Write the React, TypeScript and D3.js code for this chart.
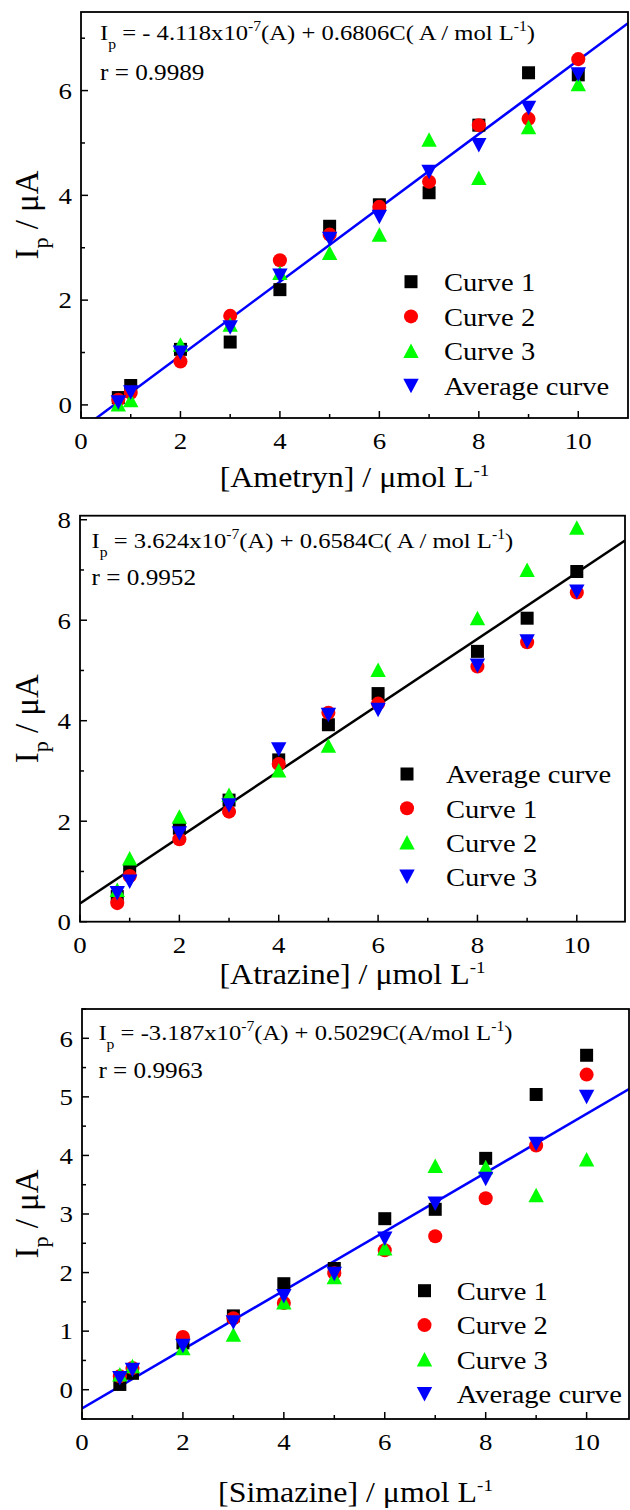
import React, { useEffect, useRef } from 'react';
import * as d3 from 'd3';

// concentrations (umol/L)
const ametrynX = [0.75, 1, 2, 3, 4, 5, 6, 7, 8, 9, 10];
const ametrynCurve1 = [0.14, 0.37, 1.06, 1.2, 2.2, 3.41, 3.82, 4.05, 5.34, 6.34, 6.3];
const ametrynCurve2 = [0.1, 0.23, 0.83, 1.7, 2.76, 3.25, 3.78, 4.26, 5.34, 5.46, 6.6];
const ametrynCurve3 = [0.01, 0.09, 1.15, 1.53, 2.52, 2.9, 3.25, 5.06, 4.33, 5.3, 6.12];
const ametrynAverage = [0.05, 0.24, 1.0, 1.48, 2.47, 3.17, 3.59, 4.45, 4.96, 5.67, 6.31];
const ametrynFit = { intercept: -0.47, slope: 0.705 };

const atrazineX = [0.75, 1, 2, 3, 4, 5, 6, 8, 9, 10];
const atrazineAverage = [0.5, 1.0, 1.86, 2.42, 3.22, 3.92, 4.54, 5.38, 6.04, 6.97];
const atrazineCurve1 = [0.37, 0.91, 1.64, 2.19, 3.14, 4.16, 4.34, 5.08, 5.56, 6.55];
const atrazineCurve2 = [0.63, 1.26, 2.09, 2.52, 3.01, 3.5, 5.01, 6.04, 7.0, 7.84];
const atrazineCurve3 = [0.57, 0.8, 1.76, 2.32, 3.43, 4.12, 4.22, 5.1, 5.58, 6.57];
const atrazineFit = { intercept: 0.3624, slope: 0.6584 };

const simazineX = [0.75, 1, 2, 3, 4, 5, 6, 7, 8, 9, 10];
const simazineCurve1 = [0.09, 0.28, 0.8, 1.26, 1.81, 2.07, 2.92, 3.08, 3.95, 5.04, 5.71];
const simazineCurve2 = [0.23, 0.37, 0.9, 1.22, 1.48, 1.99, 2.38, 2.62, 3.27, 4.17, 5.38];
const simazineCurve3 = [0.26, 0.4, 0.71, 0.94, 1.49, 1.92, 2.41, 3.82, 3.8, 3.32, 3.93];
const simazineAverage = [0.2, 0.34, 0.75, 1.15, 1.6, 1.98, 2.58, 3.18, 3.6, 4.2, 5.0];
const simazineFit = { intercept: -0.3187, slope: 0.5029 };

const xMajorTicks = [0, 2, 4, 6, 8, 10];
const xMinorTicks = [1, 3, 5, 7, 9];

const FONT = 'Liberation Serif';
const SX = 1.12; // the original figure is slightly stretched horizontally

type Shape = 'square' | 'circle' | 'up' | 'down';
const COLORS: Record<Shape, string> = { square: '#000000', circle: '#ff0000', up: '#00ff00', down: '#0000ff' };

function markerPath(shape: Shape) {
  if (shape === 'square') return 'M-6.5,-6.5H6.5V6.5H-6.5Z';
  if (shape === 'circle') return d3.symbol(d3.symbolCircle, 155)() as string;
  if (shape === 'up') return 'M0,-7.5L7.7,7H-7.7Z';
  return 'M0,7.5L7.7,-7H-7.7Z';
}

const panels = [
  {
    x: ametrynX,
    series: [
      { name: 'Curve 1', shape: 'square' as Shape, values: ametrynCurve1 },
      { name: 'Curve 2', shape: 'circle' as Shape, values: ametrynCurve2 },
      { name: 'Curve 3', shape: 'up' as Shape, values: ametrynCurve3 },
      { name: 'Average curve', shape: 'down' as Shape, values: ametrynAverage },
    ],
    fit: ametrynFit, fitColor: '#0000ff',
    box: { left: 81, right: 628, top: 12, bottom: 418 },
    xDomain: [0, 11], yDomain: [-0.25, 7.5],
    yMajor: [0, 2, 4, 6], yMinor: [1, 3, 5, 7],
    eq: ['- 4.118x10', '(A) + 0.6806C( A / mol L'], r: 'r = 0.9989',
    eqPos: { x: 100, y1: 40, y2: 80 },
    legend: { symX: 411, textX: 444, y0: 281.7, dy: 34.7 },
    compound: 'Ametryn', titleY: 487,
  },
  {
    x: atrazineX,
    series: [
      { name: 'Average curve', shape: 'square' as Shape, values: atrazineAverage },
      { name: 'Curve 1', shape: 'circle' as Shape, values: atrazineCurve1 },
      { name: 'Curve 2', shape: 'up' as Shape, values: atrazineCurve2 },
      { name: 'Curve 3', shape: 'down' as Shape, values: atrazineCurve3 },
    ],
    fit: atrazineFit, fitColor: '#000000',
    box: { left: 80, right: 625, top: 515.7, bottom: 921.7 },
    xDomain: [0, 10.97], yDomain: [0, 8.08],
    yMajor: [0, 2, 4, 6, 8], yMinor: [1, 3, 5, 7],
    eq: ['3.624x10', '(A) + 0.6584C( A / mol L'], r: 'r = 0.9952',
    eqPos: { x: 91.6, y1: 548, y2: 585 },
    legend: { symX: 407, textX: 446, y0: 774, dy: 34.2 },
    compound: 'Atrazine', titleY: 984,
  },
  {
    x: simazineX,
    series: [
      { name: 'Curve 1', shape: 'square' as Shape, values: simazineCurve1 },
      { name: 'Curve 2', shape: 'circle' as Shape, values: simazineCurve2 },
      { name: 'Curve 3', shape: 'up' as Shape, values: simazineCurve3 },
      { name: 'Average curve', shape: 'down' as Shape, values: simazineAverage },
    ],
    fit: simazineFit, fitColor: '#0000ff',
    box: { left: 82, right: 629, top: 1009, bottom: 1419 },
    xDomain: [0, 10.84], yDomain: [-0.5, 6.5],
    yMajor: [0, 1, 2, 3, 4, 5, 6], yMinor: [-0.5, 0.5, 1.5, 2.5, 3.5, 4.5, 5.5, 6.5],
    eq: ['-3.187x10', '(A) + 0.5029C(A/mol L'], r: 'r = 0.9963',
    eqPos: { x: 98.4, y1: 1040, y2: 1078 },
    legend: { symX: 424.5, textX: 456.7, y0: 1290.7, dy: 34.4 },
    compound: 'Simazine', titleY: 1502,
  },
];

function drawPanel(svg: any, p: any, idx: number) {
  const { left, right, top, bottom } = p.box;
  const xScale = d3.scaleLinear().domain(p.xDomain).range([left, right]);
  const yScale = d3.scaleLinear().domain(p.yDomain).range([bottom, top]);
  const g = svg.append('g').style('font-family', FONT);

  const clipId = 'clip' + idx;
  g.append('clipPath').attr('id', clipId)
    .append('rect').attr('x', left).attr('y', top).attr('width', right - left).attr('height', bottom - top);

  // fit line
  const fitLine = d3.line<number>()
    .x(d => xScale(d))
    .y(d => yScale(p.fit.intercept + p.fit.slope * d));
  g.append('path')
    .attr('clip-path', `url(#${clipId})`)
    .attr('d', fitLine(p.xDomain))
    .attr('fill', 'none')
    .attr('stroke', p.fitColor)
    .attr('stroke-width', 2.5);

  // points
  p.series.forEach((s: any) => {
    g.append('g').selectAll('path')
      .data(s.values)
      .join('path')
      .attr('d', markerPath(s.shape))
      .attr('fill', COLORS[s.shape as Shape])
      .attr('transform', (d: number, i: number) => `translate(${xScale(p.x[i])},${yScale(d)})`);
  });

  // frame
  g.append('rect')
    .attr('x', left).attr('y', top).attr('width', right - left).attr('height', bottom - top)
    .attr('fill', 'none').attr('stroke', '#000').attr('stroke-width', 1.8);

  // ticks (inward)
  xMajorTicks.forEach(t => {
    g.append('line').attr('x1', xScale(t)).attr('x2', xScale(t)).attr('y1', bottom).attr('y2', bottom - 7)
      .attr('stroke', '#000').attr('stroke-width', 1.5);
    g.append('text')
      .attr('transform', `translate(${xScale(t)},${bottom + 31}) scale(${SX},1)`)
      .attr('text-anchor', 'middle').attr('font-size', 24)
      .text(t);
  });
  xMinorTicks.forEach(t => {
    g.append('line').attr('x1', xScale(t)).attr('x2', xScale(t)).attr('y1', bottom).attr('y2', bottom - 4)
      .attr('stroke', '#000').attr('stroke-width', 1.5);
  });
  p.yMajor.forEach((t: number) => {
    g.append('line').attr('x1', left).attr('x2', left + 7).attr('y1', yScale(t)).attr('y2', yScale(t))
      .attr('stroke', '#000').attr('stroke-width', 1.5);
    g.append('text')
      .attr('transform', `translate(${left - 9},${yScale(t) + 8.3}) scale(${SX},1)`)
      .attr('text-anchor', 'end').attr('font-size', 24)
      .text(t);
  });
  p.yMinor.forEach((t: number) => {
    g.append('line').attr('x1', left).attr('x2', left + 4).attr('y1', yScale(t)).attr('y2', yScale(t))
      .attr('stroke', '#000').attr('stroke-width', 1.5);
  });

  // equation
  const eq = g.append('text')
    .attr('transform', `translate(${p.eqPos.x},${p.eqPos.y1}) scale(${SX},1)`)
    .attr('font-size', 22);
  eq.append('tspan').text('I');
  eq.append('tspan').attr('font-size', 14).attr('dy', 9).text('p');
  eq.append('tspan').attr('dy', -9).text(' = ' + p.eq[0]);
  eq.append('tspan').attr('font-size', 14).attr('dy', -9).text('-7');
  eq.append('tspan').attr('dy', 9).text(p.eq[1]);
  eq.append('tspan').attr('font-size', 14).attr('dy', -9).text('-1');
  eq.append('tspan').attr('dy', 9).text(')');
  g.append('text')
    .attr('transform', `translate(${p.eqPos.x},${p.eqPos.y2}) scale(${SX},1)`)
    .attr('font-size', 22.5)
    .text(p.r);

  // legend
  p.series.forEach((s: any, i: number) => {
    const y = p.legend.y0 + i * p.legend.dy;
    g.append('path').attr('d', markerPath(s.shape)).attr('fill', COLORS[s.shape as Shape])
      .attr('transform', `translate(${p.legend.symX},${y})`);
    g.append('text')
      .attr('transform', `translate(${p.legend.textX},${y + 9.3}) scale(${SX},1)`)
      .attr('font-size', 25.5)
      .text(s.name);
  });

  // axis titles
  const xt = g.append('text')
    .attr('transform', `translate(${(left + right) / 2},${p.titleY}) scale(${SX},1)`)
    .attr('text-anchor', 'middle').attr('font-size', 28.5);
  xt.append('tspan').text(`[${p.compound}] / \u03bcmol L`);
  xt.append('tspan').attr('font-size', 17).attr('dy', -11).text('-1');

  const yt = g.append('text')
    .attr('transform', `translate(38,${(top + bottom) / 2}) rotate(-90)`)
    .attr('text-anchor', 'middle').attr('font-size', 33);
  yt.append('tspan').text('I');
  yt.append('tspan').attr('font-size', 22).attr('dy', 10).text('p');
  yt.append('tspan').attr('dy', -10).text(' / \u03bcA');
}

export default function App() {
  const ref = useRef<SVGSVGElement>(null);

  useEffect(() => {
    const svg = d3.select(ref.current);
    svg.selectAll('*').remove();
    panels.forEach((p, i) => drawPanel(svg, p, i));
  }, []);

  return (
    <svg
      ref={ref}
      width={630}
      height={1510}
      style={{ position: 'absolute', left: 0, top: 0, background: '#fff' }}
    />
  );
}
